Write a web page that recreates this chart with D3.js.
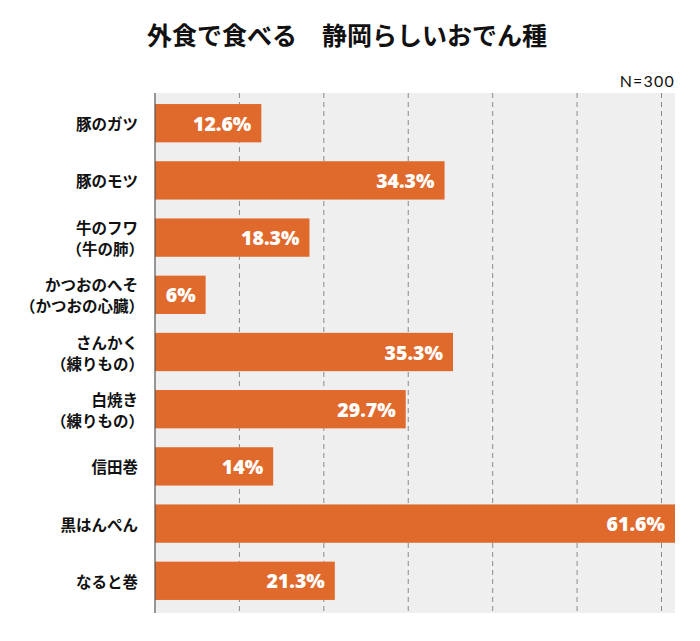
<!DOCTYPE html>
<html><head><meta charset="utf-8">
<script src="https://cdn.jsdelivr.net/npm/d3@7"></script>
<style>
body{margin:0;background:#fff;}
svg{display:block;}
</style></head>
<body>
<svg id="chart" width="700" height="641"></svg>
<script>
const title = "外食で食べる　静岡らしいおでん種";
const note = "N=300";
const categories = [
  ["豚のガツ"],
  ["豚のモツ"],
  ["牛のフワ", "（牛の肺）"],
  ["かつおのへそ", "（かつおの心臓）"],
  ["さんかく", "（練りもの）"],
  ["白焼き", "（練りもの）"],
  ["信田巻"],
  ["黒はんぺん"],
  ["なると巻"]
];
const values = [12.6, 34.3, 18.3, 6, 35.3, 29.7, 14, 61.6, 21.3];
const labels = ["12.6%", "34.3%", "18.3%", "6%", "35.3%", "29.7%", "14%", "61.6%", "21.3%"];
const gridTicks = [10, 20, 30, 40, 50, 60];

(function(){
const svg = d3.select("#chart");
const pLeft = 155, pRight = 675, pTop = 93, pBottom = 613;
const x = d3.scaleLinear().domain([0, 61.6]).range([pLeft, pRight]);
const y = d3.scaleBand().domain(d3.range(values.length)).range([94.6, 609.4]).paddingInner(0.33).paddingOuter(0.165);

const jp = "'Noto Sans CJK JP', 'Noto Sans', sans-serif";

svg.append("text").attr("x", 347).attr("y", 34).attr("text-anchor", "middle")
  .attr("dominant-baseline", "central")
  .style("font-family", jp).style("font-weight", 700).style("font-size", "25px").attr("fill", "#111")
  .text(title);

svg.append("text").attr("x", 675).attr("y", 87).attr("text-anchor", "end")
  .style("font-family", "'Lato', sans-serif").style("font-size", "16px").style("letter-spacing", "1.2px").attr("fill", "#111")
  .text(note);

svg.append("rect").attr("x", pLeft).attr("y", pTop).attr("width", pRight - pLeft).attr("height", pBottom - pTop).attr("fill", "#efefef");

svg.selectAll("line.grid").data(gridTicks).enter().append("line")
  .attr("class", "grid")
  .attr("x1", d => x(d)).attr("x2", d => x(d)).attr("y1", pTop).attr("y2", pBottom)
  .attr("stroke", "#8a8a8a").attr("stroke-width", 1).attr("stroke-dasharray", "5,4");

svg.selectAll("rect.bar").data(values).enter().append("rect")
  .attr("class", "bar")
  .attr("x", x(0)).attr("y", (d, i) => y(i))
  .attr("width", d => x(d) - x(0)).attr("height", y.bandwidth())
  .attr("fill", "#E0692C");

svg.append("line").attr("x1", pLeft).attr("x2", pLeft).attr("y1", pTop).attr("y2", pBottom)
  .attr("stroke", "#555").attr("stroke-width", 1.2);

svg.selectAll("text.val").data(values).enter().append("text")
  .attr("class", "val")
  .attr("x", d => x(d) - 10).attr("y", (d, i) => y(i) + y.bandwidth() / 2)
  .attr("text-anchor", "end").attr("dominant-baseline", "central")
  .style("font-family", "'Open Sans', sans-serif").style("font-weight", 800).style("font-size", "19.5px")
  .attr("fill", "#fff")
  .text((d, i) => labels[i]);

const catG = svg.selectAll("text.cat").data(categories).enter().append("text")
  .attr("class", "cat")
  .attr("text-anchor", "end")
  .style("font-family", jp).style("font-weight", 700).style("font-size", "15.5px").attr("fill", "#111");
catG.each(function(d, i) {
  const cy = y(i) + y.bandwidth() / 2;
  const n = d.length;
  d.forEach((line, j) => {
    d3.select(this).append("tspan")
      .attr("x", line.startsWith("（") ? 144 : 138)
      .attr("y", cy + (j - (n - 1) / 2) * 21)
      .attr("dominant-baseline", "central")
      .text(line);
  });
});
})();
</script>
</body></html>
